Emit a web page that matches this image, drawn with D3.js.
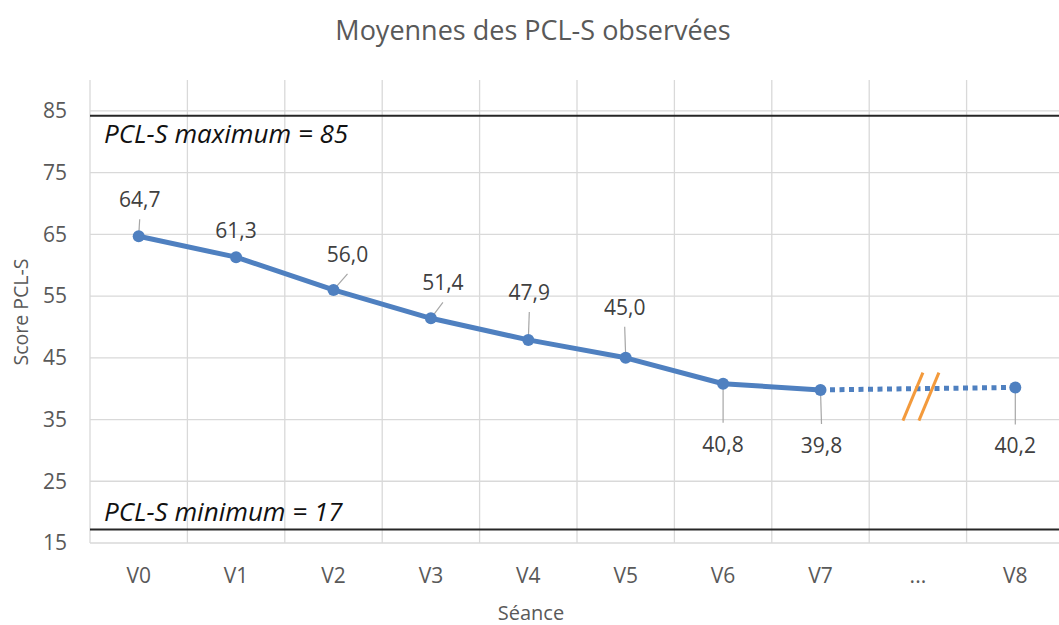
<!DOCTYPE html>
<html>
<head>
<meta charset="utf-8">
<script src="https://cdn.jsdelivr.net/npm/d3@7"></script>
<style>
  body { margin: 0; background: #fff; }
  text { font-family: "Open Sans", "Noto Sans", sans-serif; }
</style>
</head>
<body>
<div id="chart"></div>
<script>
// data
var seances = ["V0", "V1", "V2", "V3", "V4", "V5", "V6", "V7", "...", "V8"];
var scores = [64.7, 61.3, 56.0, 51.4, 47.9, 45.0, 40.8, 39.8, null, 40.2];
var yTicks = [15, 25, 35, 45, 55, 65, 75, 85];
var refLabels = ["PCL-S maximum = 85", "PCL-S minimum = 17"];
var refValues = [84.2, 17.2];

var svgWidth = 1059;
var svgHeight = 625;

var svg = d3.select("#chart")
  .append("svg")
  .attr("width", svgWidth)
  .attr("height", svgHeight);

// scales (plot runs past the right edge, like the original)
var xScale = d3.scaleBand()
  .domain(seances)
  .range([90, 1064])
  .padding(0);

var yScale = d3.scaleLinear()
  .domain([15, 90])
  .range([543, 80]);

var grey = "#595959";
var gridColor = "#d9d9d9";
var blue = "#4f80c0";

// title
svg.append("text")
  .attr("x", 533)
  .attr("y", 40)
  .attr("text-anchor", "middle")
  .attr("font-size", "27px")
  .attr("fill", grey)
  .text("Moyennes des PCL-S observées");

// gridlines
svg.append("g")
  .selectAll("line")
  .data(yTicks)
  .enter()
  .append("line")
  .attr("x1", 90)
  .attr("x2", 1064)
  .attr("y1", d => yScale(d))
  .attr("y2", d => yScale(d))
  .attr("stroke", gridColor)
  .attr("stroke-width", 1.3);

var bounds = seances.map(d => xScale(d)).concat([xScale.range()[1]]);
svg.append("g")
  .selectAll("line")
  .data(bounds)
  .enter()
  .append("line")
  .attr("x1", d => d)
  .attr("x2", d => d)
  .attr("y1", yScale(90))
  .attr("y2", yScale(15))
  .attr("stroke", gridColor)
  .attr("stroke-width", 1.3);

// axes
var leftAxis = d3.axisLeft(yScale).tickValues(yTicks).tickSize(0).tickPadding(23);
var yAxisG = svg.append("g")
  .attr("transform", "translate(90,0)")
  .call(leftAxis);
yAxisG.select(".domain").remove();
yAxisG.selectAll("text")
  .attr("font-size", "21px")
  .attr("fill", grey)
  .style("font-family", "Open Sans, sans-serif");

var bottomAxis = d3.axisBottom(xScale).tickSize(0).tickPadding(25);
var xAxisG = svg.append("g")
  .attr("transform", "translate(0,543)")
  .call(bottomAxis);
xAxisG.select(".domain").remove();
xAxisG.selectAll("text")
  .attr("font-size", "21px")
  .attr("fill", grey)
  .style("font-family", "Open Sans, sans-serif");

// axis titles
svg.append("text")
  .attr("x", 531)
  .attr("y", 620)
  .attr("text-anchor", "middle")
  .attr("font-size", "20px")
  .attr("fill", grey)
  .text("Séance");

svg.append("text")
  .attr("transform", "translate(28,312) rotate(-90)")
  .attr("text-anchor", "middle")
  .attr("font-size", "19.5px")
  .attr("fill", grey)
  .text("Score PCL-S");

// reference lines max / min
refValues.forEach(function(v, i) {
  svg.append("line")
    .attr("x1", 90)
    .attr("x2", 1064)
    .attr("y1", yScale(v))
    .attr("y2", yScale(v))
    .attr("stroke", "#262626")
    .attr("stroke-width", 2);
  svg.append("text")
    .attr("x", 104)
    .attr("y", i == 0 ? yScale(v) + 27 : yScale(v) - 8)
    .attr("font-size", "26px")
    .attr("font-style", "italic")
    .attr("fill", "#111")
    .text(refLabels[i]);
});

// series
var points = seances.map((s, i) => ({ s: s, v: scores[i] })).filter(d => d.v != null);
var solid = points.slice(0, 8);
var dotted = points.slice(7);

var cx = d => xScale(d.s) + xScale.bandwidth() / 2;

var line = d3.line()
  .x(d => cx(d))
  .y(d => yScale(d.v));

svg.append("path")
  .datum(dotted)
  .attr("d", line)
  .attr("fill", "none")
  .attr("stroke", blue)
  .attr("stroke-width", 5)
  .attr("stroke-dasharray", "5,4.5");

svg.append("path")
  .datum(solid)
  .attr("d", line)
  .attr("fill", "none")
  .attr("stroke", blue)
  .attr("stroke-width", 5)
  .attr("stroke-linejoin", "round");

// break mark on the "..." category
var bx = xScale("...") + xScale.bandwidth() / 2 + 3;
var by = yScale(40);
[-8, 8].forEach(function(off) {
  svg.append("line")
    .attr("x1", bx + off - 10)
    .attr("y1", by + 32)
    .attr("x2", bx + off + 10)
    .attr("y2", by - 16)
    .attr("stroke", "#f39a3c")
    .attr("stroke-width", 3);
});

// label placement (dx, dy of the baseline from the point, in px)
var labelPos = [
  [1, -29], [0, -19], [14, -28], [12, -28], [1, -40], [-1, -43],
  [0, 68], [1, 63], [0, 66]
];

// leader lines
var leaders = points.map(function(d, i) {
  var p = labelPos[i];
  var y0 = yScale(d.v);
  var yEnd = p[1] < 0 ? y0 + p[1] + 12 : y0 + p[1] - 29;
  return { x1: cx(d), y1: y0, x2: cx(d) + p[0], y2: yEnd };
}).filter(l => Math.abs(l.y2 - l.y1) > 12);

svg.append("g")
  .selectAll("line")
  .data(leaders)
  .enter()
  .append("line")
  .attr("x1", d => d.x1)
  .attr("y1", d => d.y1)
  .attr("x2", d => d.x2)
  .attr("y2", d => d.y2)
  .attr("stroke", "#a6a6a6")
  .attr("stroke-width", 1.2);

// markers
svg.append("g")
  .selectAll("circle")
  .data(points)
  .enter()
  .append("circle")
  .attr("cx", d => cx(d))
  .attr("cy", d => yScale(d.v))
  .attr("r", 6)
  .attr("fill", blue);

// data labels
svg.append("g")
  .selectAll("text")
  .data(points)
  .enter()
  .append("text")
  .attr("x", (d, i) => cx(d) + labelPos[i][0])
  .attr("y", (d, i) => yScale(d.v) + labelPos[i][1])
  .attr("text-anchor", "middle")
  .attr("font-size", "21px")
  .attr("fill", "#404040")
  .text(d => d3.format(".1f")(d.v).replace(".", ","));
</script>
</body>
</html>
